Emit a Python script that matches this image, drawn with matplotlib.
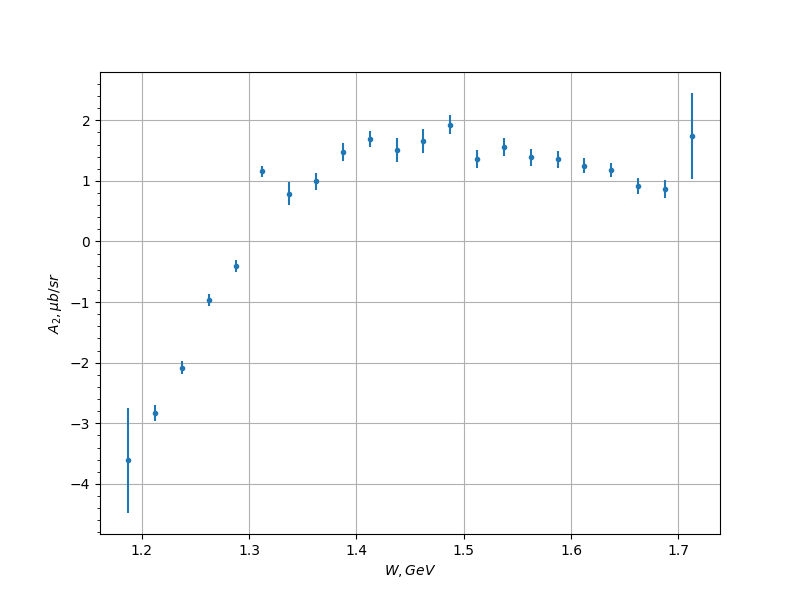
import matplotlib
matplotlib.use('Agg')
import matplotlib.pyplot as plt
from matplotlib.ticker import AutoMinorLocator

# Data
W = [1.1875, 1.2125, 1.2375, 1.2625, 1.2875, 1.3125, 1.3375, 1.3625,
     1.3875, 1.4125, 1.4375, 1.4625, 1.4875, 1.5125, 1.5375, 1.5625,
     1.5875, 1.6125, 1.6375, 1.6625, 1.6875, 1.7125]
A2 = [-3.61, -2.83, -2.08, -0.96, -0.40, 1.16, 0.79, 0.99,
      1.475, 1.69, 1.51, 1.66, 1.93, 1.36, 1.56, 1.39,
      1.36, 1.25, 1.18, 0.92, 0.87, 1.74]
A2_err = [0.87, 0.14, 0.10, 0.10, 0.10, 0.09, 0.19, 0.145,
          0.145, 0.13, 0.20, 0.20, 0.15, 0.155, 0.155, 0.14,
          0.14, 0.12, 0.12, 0.13, 0.15, 0.71]

fig, ax = plt.subplots(figsize=(8, 6), dpi=100)
ax.errorbar(W, A2, yerr=A2_err, fmt='.')
ax.set_xlabel('$W, GeV$')
ax.set_ylabel(r'$A_2, \mu b/sr$')
ax.yaxis.set_minor_locator(AutoMinorLocator())
ax.grid()
plt.savefig('out.png')
